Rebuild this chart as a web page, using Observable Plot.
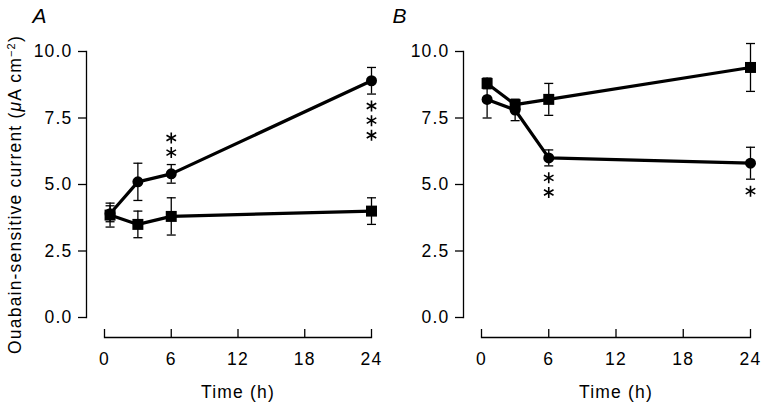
<!DOCTYPE html>
<html><head><meta charset="utf-8">
<script src="https://cdn.jsdelivr.net/npm/d3@7"></script>
<script src="https://cdn.jsdelivr.net/npm/@observablehq/plot@0.6"></script>
<style>
html,body{margin:0;padding:0;background:#fff;}
#chart{position:relative;width:763px;height:408px;overflow:hidden;}
#chart svg{position:absolute;top:0;}
</style></head><body><div id="chart"></div>
<script>
const times = [0.5, 3, 6, 24];
const xTicks = [0, 6, 12, 18, 24];
const yTicks = [0, 2.5, 5, 7.5, 10];
const aCircle = [3.9, 5.1, 5.4, 8.9];
const aCircleErr = [0.3, 0.7, 0.35, 0.5];
const aSquare = [3.85, 3.5, 3.8, 4.0];
const aSquareErr = [0.45, 0.5, 0.7, 0.5];
const bCircle = [8.2, 7.8, 6.0, 5.8];
const bCircleErr = [0.7, 0.4, 0.3, 0.6];
const bSquare = [8.8, 8.0, 8.2, 9.4];
const bSquareErr = [0.2, 0.2, 0.6, 0.9];
const sigA = [{time: 6, stars: 2, side: 1}, {time: 24, stars: 3, side: -1}];
const sigB = [{time: 6, stars: 2, side: -1}, {time: 24, stars: 1, side: -1}];
const xLabel = "Time (h)";
const yLabel = "Ouabain-sensitive current (μA cm⁻²)";

function rows(vals, errs) { return times.map((t, i) => ({time: t, value: vals[i], err: errs[i]})); }
const capSymbol = {draw(ctx) { ctx.moveTo(-4.5, 0); ctx.lineTo(4.5, 0); }};
const SW = 1.3;

function panel({label, circle, circleErr, square, squareErr, sig, left, width, marginRight, yTitle}) {
  const circ = rows(circle, circleErr);
  const sq = rows(square, squareErr);
  const all = [...sq, ...circ];
  const stars = sig.flatMap(s => {
    const d = circ.find(r => r.time === s.time);
    return d3.range(s.stars).map(k => ({time: s.time, value: d.value + s.side * (d.err + 0.45 + k * 0.55)}));
  });
  const marks = [
    Plot.frame({anchor: "left", insetBottom: 20, strokeWidth: SW}),
    Plot.frame({anchor: "bottom", insetLeft: 18, strokeWidth: SW}),
    Plot.axisY(yTicks, {anchor: "left", tickSize: 8, tickPadding: 6, tickFormat: d => d.toFixed(1), label: null, strokeWidth: SW}),
    Plot.axisX(xTicks, {anchor: "bottom", tickSize: -8, tickPadding: 23, label: null, strokeWidth: SW}),
    Plot.text([xLabel], {x: [(xTicks[0] + xTicks[xTicks.length - 1]) / 2], frameAnchor: "bottom", dy: 60, lineAnchor: "bottom"}),
    Plot.ruleX(all, {x: "time", y1: d => d.value - d.err, y2: d => d.value + d.err, strokeWidth: SW}),
    Plot.dot(all, {x: "time", y: d => d.value - d.err, symbol: capSymbol, stroke: "black", strokeWidth: SW, r: 4}),
    Plot.dot(all, {x: "time", y: d => d.value + d.err, symbol: capSymbol, stroke: "black", strokeWidth: SW, r: 4}),
    Plot.line(sq, {x: "time", y: "value", strokeWidth: 3.2}),
    Plot.line(circ, {x: "time", y: "value", strokeWidth: 3.2}),
    Plot.dot(sq, {x: "time", y: "value", symbol: "square", fill: "black", r: 6.2}),
    Plot.dot(circ, {x: "time", y: "value", symbol: "circle", fill: "black", r: 5.5}),
    Plot.dot(stars, {x: "time", y: "value", symbol: "asterisk", stroke: "black", strokeWidth: 1.6, r: 5.2}),
    Plot.text([label], {frameAnchor: "top-left", dx: label === "A" ? -54 : -71, dy: -29, fontStyle: "italic", fontSize: 21, textAnchor: "start", lineAnchor: "bottom"})
  ];
  if (yTitle) marks.push(Plot.text([yLabel], {frameAnchor: "left", dx: -71, rotate: -90, fontSize: 17.5, textAnchor: "middle"}));
  const svg = Plot.plot({
    width, height: 408,
    marginLeft: 86, marginTop: 51, marginBottom: 71, marginRight,
    x: {domain: [0, 24], insetLeft: 18},
    y: {domain: [0, 10], insetBottom: 20},
    style: {fontFamily: "'Liberation Sans', Arial, sans-serif", fontSize: "17.5px", letterSpacing: "1.2px", background: "transparent", color: "black", overflow: "visible"},
    marks
  });
  svg.style.left = left + "px";
  if (yTitle) {
    d3.select(svg).selectAll("text").filter(function() { return this.textContent === yLabel; }).each(function() {
      const t = d3.select(this);
      t.text(null).attr("text-anchor", "middle");
      t.append("tspan").text("Ouabain-sensitive current (");
      t.append("tspan").attr("font-style", "italic").text("μ");
      t.append("tspan").text("A cm");
      t.append("tspan").attr("baseline-shift", "super").attr("font-size", "11px").text("−2");
      t.append("tspan").text(")");
    });
  }
  return svg;
}

const chart = document.getElementById("chart");
chart.appendChild(panel({label: "A", circle: aCircle, circleErr: aCircleErr, square: aSquare, squareErr: aSquareErr, sig: sigA, left: 0, width: 381, marginRight: 10, yTitle: true}));
chart.appendChild(panel({label: "B", circle: bCircle, circleErr: bCircleErr, square: bSquare, squareErr: bSquareErr, sig: sigB, left: 377, width: 381, marginRight: 8, yTitle: false}));
</script>
</body></html>
